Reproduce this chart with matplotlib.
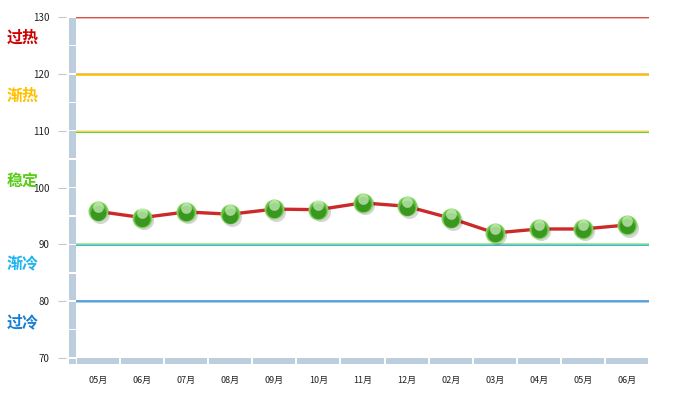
import numpy as np
import matplotlib.pyplot as plt
import matplotlib.transforms as mtransforms

plt.rcParams['font.family'] = ['Noto Sans CJK SC', 'DejaVu Sans']

# data
months = ["05月", "06月", "07月", "08月", "09月", "10月", "11月", "12月", "02月", "03月", "04月", "05月", "06月"]
values = [95.8, 94.7, 95.7, 95.3, 96.2, 96.1, 97.3, 96.7, 94.6, 92.0, 92.7, 92.7, 93.4]
levels = [130, 120, 110, 90, 80]
level_top = ["#c0392b", "#f0b050", "#ffe080", "#99e07a", "#3c8fd0"]
level_low = ["#f4b0b0", "#ffd000", "#66cc33", "#33b5e5", "#a8d0f0"]
zones = ["过热", "渐热", "稳定", "渐冷", "过冷"]
zone_y = [126.3, 116.1, 101.1, 86.4, 76.2]
zone_col = ["#cc0000", "#ffc000", "#5ccc1c", "#1eb4f0", "#1a7fd0"]

fig = plt.figure(figsize=(6.76, 3.96), dpi=100)
ax = fig.add_axes([76/676, 1-358/396, 573/676, 341/396])
x = np.arange(len(months))
ax.set_xlim(-0.5, len(months)-0.5)
ax.set_ylim(70, 130)

# threshold lines
for lv, c1, c2 in zip(levels, level_top, level_low):
    ax.axhline(lv - 0.2, color=c2, lw=1.4, zorder=2)
    ax.axhline(lv, color=c1, lw=1.1, zorder=2)

# zone labels
tr = mtransforms.blended_transform_factory(fig.transFigure, ax.transData)
for name, yy, c in zip(zones, zone_y, zone_col):
    ax.text(7/676, yy, name, transform=tr, color=c, fontsize=11.5, fontweight='bold',
            ha='left', va='center', clip_on=False)

# bottom bar segments
ppu_x = 573/len(months)
ppu_y = 341/60
ax.bar(x, 6/ppu_y, width=1-2/ppu_x, bottom=70-6/ppu_y, color="#bccddd",
       clip_on=False, zorder=1)
# left bar segments every 5 units
lb = 7/ppu_x
seg = np.arange(70, 130, 5)
ax.bar(np.full(len(seg), -0.5 - lb/2), 5 - 1.5/ppu_y, width=lb, bottom=seg + 0.75/ppu_y,
       color="#bccddd", clip_on=False, zorder=1)
ax.bar([-0.5 - lb/2], 6/ppu_y - 1/ppu_y, width=lb, bottom=70-6/ppu_y,
       color="#bccddd", clip_on=False, zorder=1)

# series line
ax.plot(x, values, color="#cc2a2a", lw=2.4, zorder=3, solid_joinstyle='round')

# shaded ball markers
sh = mtransforms.offset_copy(ax.transData, fig=fig, x=1.5, y=-1.8, units='points')
lo = mtransforms.offset_copy(ax.transData, fig=fig, x=0, y=-1.0, units='points')
hi = mtransforms.offset_copy(ax.transData, fig=fig, x=0, y=3.0, units='points')
ax.scatter(x, values, s=190, color="#000000", alpha=0.16, transform=sh, zorder=4, linewidths=0)
ax.scatter(x, values, s=185, color="#5cbf3a", edgecolors="#8fd46e", linewidths=0.8, zorder=5)
ax.scatter(x, values, s=120, color="#2f8c18", alpha=0.75, transform=lo, zorder=6, linewidths=0)
ax.scatter(x, values, s=60, color="#e8ffe0", alpha=0.6, marker=(40, 0, 0), transform=hi,
           zorder=7, linewidths=0)

# axes styling
for s in ax.spines.values():
    s.set_visible(False)
ax.spines['left'].set_position(('outward', 7))
ax.set_yticks(range(70, 131, 10))
ax.tick_params(axis='y', length=6, color="#c0c8d0", labelsize=7, pad=6, labelcolor="#222222")
ax.set_xticks(x)
ax.set_xticklabels(months)
ax.tick_params(axis='x', length=0, labelsize=6.5, pad=13, labelcolor="#222222")

fig.savefig("out.png", dpi=100)
